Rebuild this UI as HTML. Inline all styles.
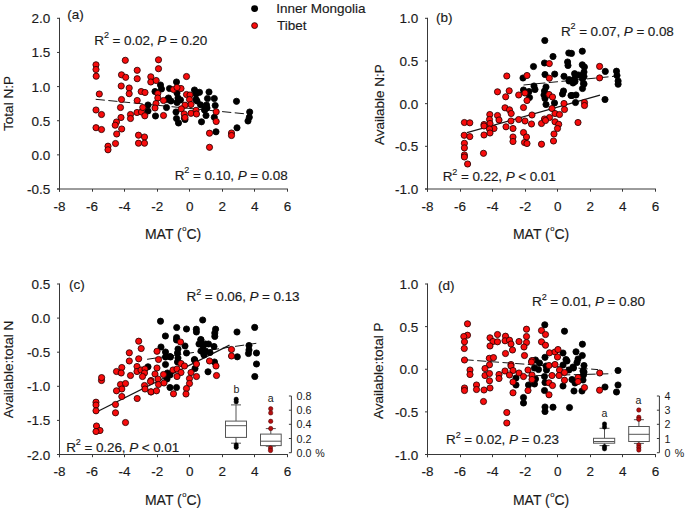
<!DOCTYPE html>
<html><head><meta charset="utf-8"><style>
html,body{margin:0;padding:0;background:#fff;overflow:hidden;width:685px;height:510px;}
svg{display:block;}
.t{font-family:"Liberation Sans", sans-serif;font-size:13.5px;fill:#1a1a1a;stroke:#1a1a1a;stroke-width:0.15px;}
.s{font-family:"Liberation Sans", sans-serif;font-size:10.7px;fill:#1a1a1a;}
.sup{font-size:9px;}
.l{font-family:"Liberation Sans", sans-serif;font-size:10.6px;fill:#1a1a1a;}
</style></head><body>
<svg width="685" height="510" viewBox="0 0 685 510">
<path d="M59.5 17.8V191.7M57.0 189.0H287.92" stroke="#383838" stroke-width="1" fill="none"/>
<text x="50.2" y="23.30" text-anchor="end" class="t">2.0</text>
<text x="50.2" y="57.44" text-anchor="end" class="t">1.5</text>
<text x="50.2" y="91.58" text-anchor="end" class="t">1.0</text>
<text x="50.2" y="125.72" text-anchor="end" class="t">0.5</text>
<text x="50.2" y="159.86" text-anchor="end" class="t">0.0</text>
<text x="50.2" y="194.00" text-anchor="end" class="t">-0.5</text>
<text x="59.50" y="210.60" text-anchor="middle" class="t">-8</text>
<text x="92.06" y="210.60" text-anchor="middle" class="t">-6</text>
<text x="124.62" y="210.60" text-anchor="middle" class="t">-4</text>
<text x="157.18" y="210.60" text-anchor="middle" class="t">-2</text>
<text x="189.74" y="210.60" text-anchor="middle" class="t">0</text>
<text x="222.30" y="210.60" text-anchor="middle" class="t">2</text>
<text x="254.86" y="210.60" text-anchor="middle" class="t">4</text>
<text x="287.42" y="210.60" text-anchor="middle" class="t">6</text>
<path d="M57.0 18.30H59.5M57.0 52.44H59.5M57.0 86.58H59.5M57.0 120.72H59.5M57.0 154.86H59.5M57.0 189.00H59.5M59.50 189.0V191.7M92.50 189.0V191.7M124.50 189.0V191.7M157.50 189.0V191.7M189.50 189.0V191.7M222.50 189.0V191.7M254.50 189.0V191.7M287.50 189.0V191.7" stroke="#383838" stroke-width="1" fill="none"/>
<text x="144.95" y="239.00" class="t" style="font-size:14px">MAT (<tspan style="font-size:7.6px" dx="0.5" dy="-7.9">o</tspan><tspan dy="7.9">C)</tspan></text>
<path d="M427.5 17.8V191.7M425.0 189.0H655.9200000000001" stroke="#383838" stroke-width="1" fill="none"/>
<text x="418.2" y="23.30" text-anchor="end" class="t">1.0</text>
<text x="418.2" y="65.97" text-anchor="end" class="t">0.5</text>
<text x="418.2" y="108.65" text-anchor="end" class="t">0.0</text>
<text x="418.2" y="151.32" text-anchor="end" class="t">-0.5</text>
<text x="418.2" y="194.00" text-anchor="end" class="t">-1.0</text>
<text x="427.50" y="210.60" text-anchor="middle" class="t">-8</text>
<text x="460.06" y="210.60" text-anchor="middle" class="t">-6</text>
<text x="492.62" y="210.60" text-anchor="middle" class="t">-4</text>
<text x="525.18" y="210.60" text-anchor="middle" class="t">-2</text>
<text x="557.74" y="210.60" text-anchor="middle" class="t">0</text>
<text x="590.30" y="210.60" text-anchor="middle" class="t">2</text>
<text x="622.86" y="210.60" text-anchor="middle" class="t">4</text>
<text x="655.42" y="210.60" text-anchor="middle" class="t">6</text>
<path d="M425.0 18.30H427.5M425.0 60.97H427.5M425.0 103.65H427.5M425.0 146.32H427.5M425.0 189.00H427.5M427.50 189.0V191.7M460.50 189.0V191.7M492.50 189.0V191.7M525.50 189.0V191.7M557.50 189.0V191.7M590.50 189.0V191.7M622.50 189.0V191.7M655.50 189.0V191.7" stroke="#383838" stroke-width="1" fill="none"/>
<text x="512.95" y="239.00" class="t" style="font-size:14px">MAT (<tspan style="font-size:7.6px" dx="0.5" dy="-7.9">o</tspan><tspan dy="7.9">C)</tspan></text>
<path d="M59.5 283.5V457.2M57.0 454.5H287.92" stroke="#383838" stroke-width="1" fill="none"/>
<text x="50.2" y="289.00" text-anchor="end" class="t">0.5</text>
<text x="50.2" y="323.10" text-anchor="end" class="t">0.0</text>
<text x="50.2" y="357.20" text-anchor="end" class="t">-0.5</text>
<text x="50.2" y="391.30" text-anchor="end" class="t">-1.0</text>
<text x="50.2" y="425.40" text-anchor="end" class="t">-1.5</text>
<text x="50.2" y="459.50" text-anchor="end" class="t">-2.0</text>
<text x="59.50" y="476.10" text-anchor="middle" class="t">-8</text>
<text x="92.06" y="476.10" text-anchor="middle" class="t">-6</text>
<text x="124.62" y="476.10" text-anchor="middle" class="t">-4</text>
<text x="157.18" y="476.10" text-anchor="middle" class="t">-2</text>
<text x="189.74" y="476.10" text-anchor="middle" class="t">0</text>
<text x="222.30" y="476.10" text-anchor="middle" class="t">2</text>
<text x="254.86" y="476.10" text-anchor="middle" class="t">4</text>
<text x="287.42" y="476.10" text-anchor="middle" class="t">6</text>
<path d="M57.0 284.00H59.5M57.0 318.10H59.5M57.0 352.20H59.5M57.0 386.30H59.5M57.0 420.40H59.5M57.0 454.50H59.5M59.50 454.5V457.2M92.50 454.5V457.2M124.50 454.5V457.2M157.50 454.5V457.2M189.50 454.5V457.2M222.50 454.5V457.2M254.50 454.5V457.2M287.50 454.5V457.2" stroke="#383838" stroke-width="1" fill="none"/>
<text x="144.95" y="504.50" class="t" style="font-size:14px">MAT (<tspan style="font-size:7.6px" dx="0.5" dy="-7.9">o</tspan><tspan dy="7.9">C)</tspan></text>
<path d="M427.5 283.5V457.2M425.0 454.5H655.9200000000001" stroke="#383838" stroke-width="1" fill="none"/>
<text x="418.2" y="289.00" text-anchor="end" class="t">1.0</text>
<text x="418.2" y="331.62" text-anchor="end" class="t">0.5</text>
<text x="418.2" y="374.25" text-anchor="end" class="t">0.0</text>
<text x="418.2" y="416.88" text-anchor="end" class="t">-0.5</text>
<text x="418.2" y="459.50" text-anchor="end" class="t">-1.0</text>
<text x="427.50" y="476.10" text-anchor="middle" class="t">-8</text>
<text x="460.06" y="476.10" text-anchor="middle" class="t">-6</text>
<text x="492.62" y="476.10" text-anchor="middle" class="t">-4</text>
<text x="525.18" y="476.10" text-anchor="middle" class="t">-2</text>
<text x="557.74" y="476.10" text-anchor="middle" class="t">0</text>
<text x="590.30" y="476.10" text-anchor="middle" class="t">2</text>
<text x="622.86" y="476.10" text-anchor="middle" class="t">4</text>
<text x="655.42" y="476.10" text-anchor="middle" class="t">6</text>
<path d="M425.0 284.00H427.5M425.0 326.62H427.5M425.0 369.25H427.5M425.0 411.88H427.5M425.0 454.50H427.5M427.50 454.5V457.2M460.50 454.5V457.2M492.50 454.5V457.2M525.50 454.5V457.2M557.50 454.5V457.2M590.50 454.5V457.2M622.50 454.5V457.2M655.50 454.5V457.2" stroke="#383838" stroke-width="1" fill="none"/>
<text x="512.95" y="504.50" class="t" style="font-size:14px">MAT (<tspan style="font-size:7.6px" dx="0.5" dy="-7.9">o</tspan><tspan dy="7.9">C)</tspan></text>
<text x="67.26" y="18.9" class="t">(a)</text>
<text x="435.96" y="21.8" class="t">(b)</text>
<text x="69.06" y="289.2" class="t">(c)</text>
<text x="437.96" y="289.5" class="t">(d)</text>
<text transform="translate(13.3,103.5) rotate(-90)" text-anchor="middle" class="t">Total N:P</text>
<text transform="translate(383.7,104.7) rotate(-90)" text-anchor="middle" class="t">Available N:P</text>
<text transform="translate(12.6,369.5) rotate(-90)" text-anchor="middle" class="t">Available:total N</text>
<text transform="translate(382.6,370.8) rotate(-90)" text-anchor="middle" class="t">Available:total P</text>
<text x="94.29" y="44.5" class="t" letter-spacing="-0.09">R<tspan class="sup" dy="-6.2">2</tspan><tspan dy="6.2"> = 0.02, </tspan><tspan font-style="italic">P</tspan> = 0.20</text>
<text x="174.69" y="179.6" class="t" letter-spacing="-0.09">R<tspan class="sup" dy="-6.2">2</tspan><tspan dy="6.2"> = 0.10, </tspan><tspan font-style="italic">P</tspan> = 0.08</text>
<text x="560.89" y="35.5" class="t" letter-spacing="-0.09">R<tspan class="sup" dy="-6.2">2</tspan><tspan dy="6.2"> = 0.07, </tspan><tspan font-style="italic">P</tspan> = 0.08</text>
<text x="442.69" y="180.9" class="t" letter-spacing="-0.09">R<tspan class="sup" dy="-6.2">2</tspan><tspan dy="6.2"> = 0.22, </tspan><tspan font-style="italic">P</tspan> &lt; 0.01</text>
<text x="186.59" y="300.9" class="t" letter-spacing="-0.09">R<tspan class="sup" dy="-6.2">2</tspan><tspan dy="6.2"> = 0.06, </tspan><tspan font-style="italic">P</tspan> = 0.13</text>
<text x="66.19" y="451.6" class="t" letter-spacing="-0.09">R<tspan class="sup" dy="-6.2">2</tspan><tspan dy="6.2"> = 0.26, </tspan><tspan font-style="italic">P</tspan> &lt; 0.01</text>
<text x="531.99" y="305.7" class="t" letter-spacing="-0.09">R<tspan class="sup" dy="-6.2">2</tspan><tspan dy="6.2"> = 0.01, </tspan><tspan font-style="italic">P</tspan> = 0.80</text>
<text x="445.99" y="444.3" class="t" letter-spacing="-0.09">R<tspan class="sup" dy="-6.2">2</tspan><tspan dy="6.2"> = 0.02, </tspan><tspan font-style="italic">P</tspan> = 0.23</text>
<circle cx="254.6" cy="8.6" r="3.45" fill="#000"/>
<circle cx="254.6" cy="25.6" r="2.95" fill="#f80c0c" stroke="#300" stroke-width="0.9"/>
<text x="276.16" y="12.7" class="t">Inner Mongolia</text>
<text x="277.10" y="30" class="t">Tibet</text>
<line x1="95.7" y1="99.3" x2="250" y2="114.3" stroke="#151515" stroke-dasharray="9.2,3.5" stroke-width="1.0"/>
<line x1="467" y1="132.6" x2="600" y2="95.2" stroke="#151515" stroke-width="1.2"/>
<line x1="523.5" y1="85" x2="614.2" y2="76.3" stroke="#151515" stroke-dasharray="9.2,3.5" stroke-width="1.0"/>
<line x1="96" y1="412.3" x2="229.5" y2="345.1" stroke="#151515" stroke-width="1.2"/>
<line x1="147.1" y1="359.3" x2="256.3" y2="343.3" stroke="#151515" stroke-dasharray="9.2,3.5" stroke-width="1.0"/>
<line x1="464.5" y1="359.7" x2="598" y2="369.6" stroke="#151515" stroke-dasharray="9.2,3.5" stroke-width="1.0"/>
<line x1="523" y1="376" x2="612" y2="373.7" stroke="#151515" stroke-dasharray="9.2,3.5" stroke-width="1.0"/>
<circle cx="160.5" cy="85" r="3.1" fill="#000" stroke="#000" stroke-width="0.85"/>
<circle cx="161.5" cy="89" r="3.1" fill="#000" stroke="#000" stroke-width="0.85"/>
<circle cx="176.5" cy="82" r="3.1" fill="#000" stroke="#000" stroke-width="0.85"/>
<circle cx="169.5" cy="88.5" r="3.1" fill="#000" stroke="#000" stroke-width="0.85"/>
<circle cx="155" cy="91.5" r="3.1" fill="#000" stroke="#000" stroke-width="0.85"/>
<circle cx="194.5" cy="90" r="3.1" fill="#000" stroke="#000" stroke-width="0.85"/>
<circle cx="199.5" cy="92.3" r="3.1" fill="#000" stroke="#000" stroke-width="0.85"/>
<circle cx="209" cy="92" r="3.1" fill="#000" stroke="#000" stroke-width="0.85"/>
<circle cx="177" cy="93" r="3.1" fill="#000" stroke="#000" stroke-width="0.85"/>
<circle cx="168.5" cy="98" r="3.1" fill="#000" stroke="#000" stroke-width="0.85"/>
<circle cx="178" cy="98" r="3.1" fill="#000" stroke="#000" stroke-width="0.85"/>
<circle cx="196" cy="99.5" r="3.1" fill="#000" stroke="#000" stroke-width="0.85"/>
<circle cx="148" cy="105" r="3.1" fill="#000" stroke="#000" stroke-width="0.85"/>
<circle cx="148" cy="111" r="3.1" fill="#000" stroke="#000" stroke-width="0.85"/>
<circle cx="155.5" cy="116" r="3.1" fill="#000" stroke="#000" stroke-width="0.85"/>
<circle cx="166.5" cy="107.5" r="3.1" fill="#000" stroke="#000" stroke-width="0.85"/>
<circle cx="167.5" cy="99.5" r="3.1" fill="#000" stroke="#000" stroke-width="0.85"/>
<circle cx="171" cy="101" r="3.1" fill="#000" stroke="#000" stroke-width="0.85"/>
<circle cx="177" cy="102.5" r="3.1" fill="#000" stroke="#000" stroke-width="0.85"/>
<circle cx="176" cy="112" r="3.1" fill="#000" stroke="#000" stroke-width="0.85"/>
<circle cx="176.5" cy="118.5" r="3.1" fill="#000" stroke="#000" stroke-width="0.85"/>
<circle cx="178.5" cy="123" r="3.1" fill="#000" stroke="#000" stroke-width="0.85"/>
<circle cx="185" cy="119.5" r="3.1" fill="#000" stroke="#000" stroke-width="0.85"/>
<circle cx="197" cy="101" r="3.1" fill="#000" stroke="#000" stroke-width="0.85"/>
<circle cx="200.5" cy="104.8" r="3.1" fill="#000" stroke="#000" stroke-width="0.85"/>
<circle cx="205" cy="109" r="3.1" fill="#000" stroke="#000" stroke-width="0.85"/>
<circle cx="206" cy="115.5" r="3.1" fill="#000" stroke="#000" stroke-width="0.85"/>
<circle cx="201.5" cy="121.8" r="3.1" fill="#000" stroke="#000" stroke-width="0.85"/>
<circle cx="207.5" cy="98.5" r="3.1" fill="#000" stroke="#000" stroke-width="0.85"/>
<circle cx="214.3" cy="98.5" r="3.1" fill="#000" stroke="#000" stroke-width="0.85"/>
<circle cx="206.5" cy="105" r="3.1" fill="#000" stroke="#000" stroke-width="0.85"/>
<circle cx="215.2" cy="105.5" r="3.1" fill="#000" stroke="#000" stroke-width="0.85"/>
<circle cx="204.5" cy="110" r="3.1" fill="#000" stroke="#000" stroke-width="0.85"/>
<circle cx="207" cy="108" r="3.1" fill="#000" stroke="#000" stroke-width="0.85"/>
<circle cx="214.3" cy="117.3" r="3.1" fill="#000" stroke="#000" stroke-width="0.85"/>
<circle cx="236.5" cy="101.3" r="3.1" fill="#000" stroke="#000" stroke-width="0.85"/>
<circle cx="184.5" cy="118" r="3.1" fill="#000" stroke="#000" stroke-width="0.85"/>
<circle cx="180.5" cy="100" r="3.1" fill="#000" stroke="#000" stroke-width="0.85"/>
<circle cx="249.7" cy="112" r="3.1" fill="#000" stroke="#000" stroke-width="0.85"/>
<circle cx="249.3" cy="117.3" r="3.1" fill="#000" stroke="#000" stroke-width="0.85"/>
<circle cx="248" cy="121" r="3.1" fill="#000" stroke="#000" stroke-width="0.85"/>
<circle cx="237" cy="127.8" r="3.1" fill="#000" stroke="#000" stroke-width="0.85"/>
<circle cx="216" cy="131.8" r="3.1" fill="#000" stroke="#000" stroke-width="0.85"/>
<circle cx="196" cy="94" r="3.1" fill="#000" stroke="#000" stroke-width="0.85"/>
<circle cx="544.8" cy="40.5" r="3.1" fill="#000" stroke="#000" stroke-width="0.85"/>
<circle cx="553" cy="56.5" r="3.1" fill="#000" stroke="#000" stroke-width="0.85"/>
<circle cx="544.5" cy="63" r="3.1" fill="#000" stroke="#000" stroke-width="0.85"/>
<circle cx="533.5" cy="66.5" r="3.1" fill="#000" stroke="#000" stroke-width="0.85"/>
<circle cx="568.8" cy="53" r="3.1" fill="#000" stroke="#000" stroke-width="0.85"/>
<circle cx="571.5" cy="53.4" r="3.1" fill="#000" stroke="#000" stroke-width="0.85"/>
<circle cx="582.3" cy="51.2" r="3.1" fill="#000" stroke="#000" stroke-width="0.85"/>
<circle cx="567.6" cy="62" r="3.1" fill="#000" stroke="#000" stroke-width="0.85"/>
<circle cx="568" cy="65.5" r="3.1" fill="#000" stroke="#000" stroke-width="0.85"/>
<circle cx="582.3" cy="64.8" r="3.1" fill="#000" stroke="#000" stroke-width="0.85"/>
<circle cx="584.4" cy="67" r="3.1" fill="#000" stroke="#000" stroke-width="0.85"/>
<circle cx="584" cy="72" r="3.1" fill="#000" stroke="#000" stroke-width="0.85"/>
<circle cx="545" cy="74.5" r="3.1" fill="#000" stroke="#000" stroke-width="0.85"/>
<circle cx="554.7" cy="74.1" r="3.1" fill="#000" stroke="#000" stroke-width="0.85"/>
<circle cx="564" cy="76.3" r="3.1" fill="#000" stroke="#000" stroke-width="0.85"/>
<circle cx="574.6" cy="73.7" r="3.1" fill="#000" stroke="#000" stroke-width="0.85"/>
<circle cx="578.6" cy="75" r="3.1" fill="#000" stroke="#000" stroke-width="0.85"/>
<circle cx="584" cy="76.5" r="3.1" fill="#000" stroke="#000" stroke-width="0.85"/>
<circle cx="523" cy="78" r="3.1" fill="#000" stroke="#000" stroke-width="0.85"/>
<circle cx="569.2" cy="79.6" r="3.1" fill="#000" stroke="#000" stroke-width="0.85"/>
<circle cx="574.6" cy="78.8" r="3.1" fill="#000" stroke="#000" stroke-width="0.85"/>
<circle cx="582.5" cy="78.8" r="3.1" fill="#000" stroke="#000" stroke-width="0.85"/>
<circle cx="534" cy="86" r="3.1" fill="#000" stroke="#000" stroke-width="0.85"/>
<circle cx="535" cy="89.5" r="3.1" fill="#000" stroke="#000" stroke-width="0.85"/>
<circle cx="523.5" cy="90" r="3.1" fill="#000" stroke="#000" stroke-width="0.85"/>
<circle cx="529" cy="91.5" r="3.1" fill="#000" stroke="#000" stroke-width="0.85"/>
<circle cx="529.5" cy="97.5" r="3.1" fill="#000" stroke="#000" stroke-width="0.85"/>
<circle cx="546" cy="87" r="3.1" fill="#000" stroke="#000" stroke-width="0.85"/>
<circle cx="544.5" cy="91" r="3.1" fill="#000" stroke="#000" stroke-width="0.85"/>
<circle cx="544" cy="95" r="3.1" fill="#000" stroke="#000" stroke-width="0.85"/>
<circle cx="545" cy="98.5" r="3.1" fill="#000" stroke="#000" stroke-width="0.85"/>
<circle cx="546" cy="104.5" r="3.1" fill="#000" stroke="#000" stroke-width="0.85"/>
<circle cx="554.5" cy="103" r="3.1" fill="#000" stroke="#000" stroke-width="0.85"/>
<circle cx="563.5" cy="91" r="3.1" fill="#000" stroke="#000" stroke-width="0.85"/>
<circle cx="562.5" cy="94" r="3.1" fill="#000" stroke="#000" stroke-width="0.85"/>
<circle cx="571" cy="95.5" r="3.1" fill="#000" stroke="#000" stroke-width="0.85"/>
<circle cx="576" cy="95" r="3.1" fill="#000" stroke="#000" stroke-width="0.85"/>
<circle cx="575.5" cy="102.5" r="3.1" fill="#000" stroke="#000" stroke-width="0.85"/>
<circle cx="569" cy="81" r="3.1" fill="#000" stroke="#000" stroke-width="0.85"/>
<circle cx="575" cy="81.5" r="3.1" fill="#000" stroke="#000" stroke-width="0.85"/>
<circle cx="573" cy="83" r="3.1" fill="#000" stroke="#000" stroke-width="0.85"/>
<circle cx="584" cy="84" r="3.1" fill="#000" stroke="#000" stroke-width="0.85"/>
<circle cx="582.5" cy="88.5" r="3.1" fill="#000" stroke="#000" stroke-width="0.85"/>
<circle cx="572" cy="95.5" r="3.1" fill="#000" stroke="#000" stroke-width="0.85"/>
<circle cx="605.3" cy="71.4" r="3.1" fill="#000" stroke="#000" stroke-width="0.85"/>
<circle cx="616.5" cy="71.2" r="3.1" fill="#000" stroke="#000" stroke-width="0.85"/>
<circle cx="617" cy="75.5" r="3.1" fill="#000" stroke="#000" stroke-width="0.85"/>
<circle cx="618.1" cy="81" r="3.1" fill="#000" stroke="#000" stroke-width="0.85"/>
<circle cx="618.1" cy="84.2" r="3.1" fill="#000" stroke="#000" stroke-width="0.85"/>
<circle cx="605" cy="99.5" r="3.1" fill="#000" stroke="#000" stroke-width="0.85"/>
<circle cx="583.5" cy="83.5" r="3.1" fill="#000" stroke="#000" stroke-width="0.85"/>
<circle cx="160.5" cy="321.2" r="3.1" fill="#000" stroke="#000" stroke-width="0.85"/>
<circle cx="202.7" cy="320" r="3.1" fill="#000" stroke="#000" stroke-width="0.85"/>
<circle cx="176.7" cy="327.5" r="3.1" fill="#000" stroke="#000" stroke-width="0.85"/>
<circle cx="186.5" cy="329" r="3.1" fill="#000" stroke="#000" stroke-width="0.85"/>
<circle cx="196.3" cy="329.2" r="3.1" fill="#000" stroke="#000" stroke-width="0.85"/>
<circle cx="196.4" cy="332" r="3.1" fill="#000" stroke="#000" stroke-width="0.85"/>
<circle cx="215.6" cy="329.2" r="3.1" fill="#000" stroke="#000" stroke-width="0.85"/>
<circle cx="214.8" cy="333" r="3.1" fill="#000" stroke="#000" stroke-width="0.85"/>
<circle cx="214.8" cy="336.4" r="3.1" fill="#000" stroke="#000" stroke-width="0.85"/>
<circle cx="237" cy="332" r="3.1" fill="#000" stroke="#000" stroke-width="0.85"/>
<circle cx="254.7" cy="327.4" r="3.1" fill="#000" stroke="#000" stroke-width="0.85"/>
<circle cx="165.4" cy="336" r="3.1" fill="#000" stroke="#000" stroke-width="0.85"/>
<circle cx="176.6" cy="337.5" r="3.1" fill="#000" stroke="#000" stroke-width="0.85"/>
<circle cx="200.8" cy="339.5" r="3.1" fill="#000" stroke="#000" stroke-width="0.85"/>
<circle cx="176.5" cy="340" r="3.1" fill="#000" stroke="#000" stroke-width="0.85"/>
<circle cx="185" cy="346" r="3.1" fill="#000" stroke="#000" stroke-width="0.85"/>
<circle cx="161" cy="347" r="3.1" fill="#000" stroke="#000" stroke-width="0.85"/>
<circle cx="165.5" cy="352" r="3.1" fill="#000" stroke="#000" stroke-width="0.85"/>
<circle cx="178" cy="349" r="3.1" fill="#000" stroke="#000" stroke-width="0.85"/>
<circle cx="177.5" cy="353" r="3.1" fill="#000" stroke="#000" stroke-width="0.85"/>
<circle cx="186.5" cy="353" r="3.1" fill="#000" stroke="#000" stroke-width="0.85"/>
<circle cx="170" cy="356.5" r="3.1" fill="#000" stroke="#000" stroke-width="0.85"/>
<circle cx="165.5" cy="357" r="3.1" fill="#000" stroke="#000" stroke-width="0.85"/>
<circle cx="201" cy="340" r="3.1" fill="#000" stroke="#000" stroke-width="0.85"/>
<circle cx="199" cy="344" r="3.1" fill="#000" stroke="#000" stroke-width="0.85"/>
<circle cx="205.5" cy="344" r="3.1" fill="#000" stroke="#000" stroke-width="0.85"/>
<circle cx="201" cy="351" r="3.1" fill="#000" stroke="#000" stroke-width="0.85"/>
<circle cx="204" cy="354" r="3.1" fill="#000" stroke="#000" stroke-width="0.85"/>
<circle cx="194.5" cy="359.5" r="3.1" fill="#000" stroke="#000" stroke-width="0.85"/>
<circle cx="178" cy="358" r="3.1" fill="#000" stroke="#000" stroke-width="0.85"/>
<circle cx="208.5" cy="344" r="3.1" fill="#000" stroke="#000" stroke-width="0.85"/>
<circle cx="214" cy="346.5" r="3.1" fill="#000" stroke="#000" stroke-width="0.85"/>
<circle cx="203" cy="346" r="3.1" fill="#000" stroke="#000" stroke-width="0.85"/>
<circle cx="205.5" cy="351" r="3.1" fill="#000" stroke="#000" stroke-width="0.85"/>
<circle cx="210" cy="352.5" r="3.1" fill="#000" stroke="#000" stroke-width="0.85"/>
<circle cx="204" cy="355" r="3.1" fill="#000" stroke="#000" stroke-width="0.85"/>
<circle cx="249" cy="345.5" r="3.1" fill="#000" stroke="#000" stroke-width="0.85"/>
<circle cx="249" cy="350" r="3.1" fill="#000" stroke="#000" stroke-width="0.85"/>
<circle cx="248.5" cy="353.5" r="3.1" fill="#000" stroke="#000" stroke-width="0.85"/>
<circle cx="256.5" cy="353" r="3.1" fill="#000" stroke="#000" stroke-width="0.85"/>
<circle cx="237.3" cy="356.8" r="3.1" fill="#000" stroke="#000" stroke-width="0.85"/>
<circle cx="148" cy="366.8" r="3.1" fill="#000" stroke="#000" stroke-width="0.85"/>
<circle cx="165.5" cy="364.5" r="3.1" fill="#000" stroke="#000" stroke-width="0.85"/>
<circle cx="170.5" cy="357" r="3.1" fill="#000" stroke="#000" stroke-width="0.85"/>
<circle cx="177.5" cy="362" r="3.1" fill="#000" stroke="#000" stroke-width="0.85"/>
<circle cx="167.5" cy="373" r="3.1" fill="#000" stroke="#000" stroke-width="0.85"/>
<circle cx="170" cy="375" r="3.1" fill="#000" stroke="#000" stroke-width="0.85"/>
<circle cx="167" cy="379" r="3.1" fill="#000" stroke="#000" stroke-width="0.85"/>
<circle cx="170" cy="387.5" r="3.1" fill="#000" stroke="#000" stroke-width="0.85"/>
<circle cx="176.5" cy="387.5" r="3.1" fill="#000" stroke="#000" stroke-width="0.85"/>
<circle cx="194.5" cy="360" r="3.1" fill="#000" stroke="#000" stroke-width="0.85"/>
<circle cx="195" cy="368.5" r="3.1" fill="#000" stroke="#000" stroke-width="0.85"/>
<circle cx="208" cy="371.8" r="3.1" fill="#000" stroke="#000" stroke-width="0.85"/>
<circle cx="256.5" cy="364" r="3.1" fill="#000" stroke="#000" stroke-width="0.85"/>
<circle cx="254.8" cy="376.5" r="3.1" fill="#000" stroke="#000" stroke-width="0.85"/>
<circle cx="214.5" cy="362" r="3.1" fill="#000" stroke="#000" stroke-width="0.85"/>
<circle cx="544.8" cy="324.8" r="3.1" fill="#000" stroke="#000" stroke-width="0.85"/>
<circle cx="564.5" cy="331.2" r="3.1" fill="#000" stroke="#000" stroke-width="0.85"/>
<circle cx="582.4" cy="344.2" r="3.1" fill="#000" stroke="#000" stroke-width="0.85"/>
<circle cx="576" cy="351.8" r="3.1" fill="#000" stroke="#000" stroke-width="0.85"/>
<circle cx="582.3" cy="355.5" r="3.1" fill="#000" stroke="#000" stroke-width="0.85"/>
<circle cx="563" cy="353" r="3.1" fill="#000" stroke="#000" stroke-width="0.85"/>
<circle cx="545" cy="357.3" r="3.1" fill="#000" stroke="#000" stroke-width="0.85"/>
<circle cx="535.5" cy="360" r="3.1" fill="#000" stroke="#000" stroke-width="0.85"/>
<circle cx="566" cy="359.5" r="3.1" fill="#000" stroke="#000" stroke-width="0.85"/>
<circle cx="578" cy="359" r="3.1" fill="#000" stroke="#000" stroke-width="0.85"/>
<circle cx="577" cy="362.5" r="3.1" fill="#000" stroke="#000" stroke-width="0.85"/>
<circle cx="584" cy="365.5" r="3.1" fill="#000" stroke="#000" stroke-width="0.85"/>
<circle cx="573" cy="367" r="3.1" fill="#000" stroke="#000" stroke-width="0.85"/>
<circle cx="539.5" cy="363" r="3.1" fill="#000" stroke="#000" stroke-width="0.85"/>
<circle cx="534.5" cy="368" r="3.1" fill="#000" stroke="#000" stroke-width="0.85"/>
<circle cx="538.5" cy="369.5" r="3.1" fill="#000" stroke="#000" stroke-width="0.85"/>
<circle cx="546" cy="366" r="3.1" fill="#000" stroke="#000" stroke-width="0.85"/>
<circle cx="546.5" cy="370" r="3.1" fill="#000" stroke="#000" stroke-width="0.85"/>
<circle cx="544.5" cy="376.5" r="3.1" fill="#000" stroke="#000" stroke-width="0.85"/>
<circle cx="545" cy="382.5" r="3.1" fill="#000" stroke="#000" stroke-width="0.85"/>
<circle cx="535.5" cy="379" r="3.1" fill="#000" stroke="#000" stroke-width="0.85"/>
<circle cx="534.5" cy="384" r="3.1" fill="#000" stroke="#000" stroke-width="0.85"/>
<circle cx="528.5" cy="385" r="3.1" fill="#000" stroke="#000" stroke-width="0.85"/>
<circle cx="563" cy="365" r="3.1" fill="#000" stroke="#000" stroke-width="0.85"/>
<circle cx="567" cy="361" r="3.1" fill="#000" stroke="#000" stroke-width="0.85"/>
<circle cx="569" cy="370" r="3.1" fill="#000" stroke="#000" stroke-width="0.85"/>
<circle cx="573.5" cy="368" r="3.1" fill="#000" stroke="#000" stroke-width="0.85"/>
<circle cx="572" cy="379.5" r="3.1" fill="#000" stroke="#000" stroke-width="0.85"/>
<circle cx="563" cy="386" r="3.1" fill="#000" stroke="#000" stroke-width="0.85"/>
<circle cx="574" cy="391" r="3.1" fill="#000" stroke="#000" stroke-width="0.85"/>
<circle cx="544.5" cy="390.5" r="3.1" fill="#000" stroke="#000" stroke-width="0.85"/>
<circle cx="583" cy="371" r="3.1" fill="#000" stroke="#000" stroke-width="0.85"/>
<circle cx="582" cy="391" r="3.1" fill="#000" stroke="#000" stroke-width="0.85"/>
<circle cx="523.5" cy="397.5" r="3.1" fill="#000" stroke="#000" stroke-width="0.85"/>
<circle cx="523.5" cy="403" r="3.1" fill="#000" stroke="#000" stroke-width="0.85"/>
<circle cx="545" cy="407" r="3.1" fill="#000" stroke="#000" stroke-width="0.85"/>
<circle cx="545" cy="411.5" r="3.1" fill="#000" stroke="#000" stroke-width="0.85"/>
<circle cx="553" cy="407.2" r="3.1" fill="#000" stroke="#000" stroke-width="0.85"/>
<circle cx="569.5" cy="407.5" r="3.1" fill="#000" stroke="#000" stroke-width="0.85"/>
<circle cx="516" cy="378" r="3.1" fill="#000" stroke="#000" stroke-width="0.85"/>
<circle cx="516" cy="385" r="3.1" fill="#000" stroke="#000" stroke-width="0.85"/>
<circle cx="618" cy="370.5" r="3.1" fill="#000" stroke="#000" stroke-width="0.85"/>
<circle cx="618" cy="385" r="3.1" fill="#000" stroke="#000" stroke-width="0.85"/>
<circle cx="616.5" cy="392" r="3.1" fill="#000" stroke="#000" stroke-width="0.85"/>
<circle cx="605" cy="387" r="3.1" fill="#000" stroke="#000" stroke-width="0.85"/>
<circle cx="575" cy="383" r="3.1" fill="#000" stroke="#000" stroke-width="0.85"/>
<circle cx="583" cy="380" r="3.1" fill="#000" stroke="#000" stroke-width="0.85"/>
<circle cx="584" cy="372" r="3.1" fill="#000" stroke="#000" stroke-width="0.85"/>
<circle cx="583.5" cy="375" r="3.1" fill="#000" stroke="#000" stroke-width="0.85"/>
<circle cx="96.0" cy="64.8" r="3.1" fill="#f80c0c" stroke="#2a0000" stroke-width="0.85"/>
<circle cx="96.0" cy="69.5" r="3.1" fill="#f80c0c" stroke="#2a0000" stroke-width="0.85"/>
<circle cx="96.2" cy="76.2" r="3.1" fill="#f80c0c" stroke="#2a0000" stroke-width="0.85"/>
<circle cx="125.3" cy="60.3" r="3.1" fill="#f80c0c" stroke="#2a0000" stroke-width="0.85"/>
<circle cx="137.2" cy="70.3" r="3.1" fill="#f80c0c" stroke="#2a0000" stroke-width="0.85"/>
<circle cx="121.5" cy="74.8" r="3.1" fill="#f80c0c" stroke="#2a0000" stroke-width="0.85"/>
<circle cx="125.7" cy="77.3" r="3.1" fill="#f80c0c" stroke="#2a0000" stroke-width="0.85"/>
<circle cx="137.2" cy="78.7" r="3.1" fill="#f80c0c" stroke="#2a0000" stroke-width="0.85"/>
<circle cx="121.2" cy="86" r="3.1" fill="#f80c0c" stroke="#2a0000" stroke-width="0.85"/>
<circle cx="129.2" cy="88" r="3.1" fill="#f80c0c" stroke="#2a0000" stroke-width="0.85"/>
<circle cx="129.2" cy="93.7" r="3.1" fill="#f80c0c" stroke="#2a0000" stroke-width="0.85"/>
<circle cx="99.3" cy="94" r="3.1" fill="#f80c0c" stroke="#2a0000" stroke-width="0.85"/>
<circle cx="141.2" cy="91.5" r="3.1" fill="#f80c0c" stroke="#2a0000" stroke-width="0.85"/>
<circle cx="145" cy="92.5" r="3.1" fill="#f80c0c" stroke="#2a0000" stroke-width="0.85"/>
<circle cx="121.5" cy="99.5" r="3.1" fill="#f80c0c" stroke="#2a0000" stroke-width="0.85"/>
<circle cx="137.2" cy="100.5" r="3.1" fill="#f80c0c" stroke="#2a0000" stroke-width="0.85"/>
<circle cx="120.5" cy="107.5" r="3.1" fill="#f80c0c" stroke="#2a0000" stroke-width="0.85"/>
<circle cx="96" cy="110" r="3.1" fill="#f80c0c" stroke="#2a0000" stroke-width="0.85"/>
<circle cx="101.5" cy="114.5" r="3.1" fill="#f80c0c" stroke="#2a0000" stroke-width="0.85"/>
<circle cx="121" cy="117.5" r="3.1" fill="#f80c0c" stroke="#2a0000" stroke-width="0.85"/>
<circle cx="130.5" cy="114.5" r="3.1" fill="#f80c0c" stroke="#2a0000" stroke-width="0.85"/>
<circle cx="130.5" cy="118.5" r="3.1" fill="#f80c0c" stroke="#2a0000" stroke-width="0.85"/>
<circle cx="137" cy="112.5" r="3.1" fill="#f80c0c" stroke="#2a0000" stroke-width="0.85"/>
<circle cx="141.5" cy="112" r="3.1" fill="#f80c0c" stroke="#2a0000" stroke-width="0.85"/>
<circle cx="142.8" cy="107.5" r="3.1" fill="#f80c0c" stroke="#2a0000" stroke-width="0.85"/>
<circle cx="144.8" cy="115.8" r="3.1" fill="#f80c0c" stroke="#2a0000" stroke-width="0.85"/>
<circle cx="116.5" cy="122" r="3.1" fill="#f80c0c" stroke="#2a0000" stroke-width="0.85"/>
<circle cx="115.2" cy="125.2" r="3.1" fill="#f80c0c" stroke="#2a0000" stroke-width="0.85"/>
<circle cx="121.7" cy="129" r="3.1" fill="#f80c0c" stroke="#2a0000" stroke-width="0.85"/>
<circle cx="96" cy="127.7" r="3.1" fill="#f80c0c" stroke="#2a0000" stroke-width="0.85"/>
<circle cx="101.5" cy="129.5" r="3.1" fill="#f80c0c" stroke="#2a0000" stroke-width="0.85"/>
<circle cx="116.7" cy="134" r="3.1" fill="#f80c0c" stroke="#2a0000" stroke-width="0.85"/>
<circle cx="138.5" cy="135.2" r="3.1" fill="#f80c0c" stroke="#2a0000" stroke-width="0.85"/>
<circle cx="144.5" cy="137" r="3.1" fill="#f80c0c" stroke="#2a0000" stroke-width="0.85"/>
<circle cx="138.5" cy="143.2" r="3.1" fill="#f80c0c" stroke="#2a0000" stroke-width="0.85"/>
<circle cx="144.5" cy="143.2" r="3.1" fill="#f80c0c" stroke="#2a0000" stroke-width="0.85"/>
<circle cx="115.5" cy="143.5" r="3.1" fill="#f80c0c" stroke="#2a0000" stroke-width="0.85"/>
<circle cx="108" cy="146.2" r="3.1" fill="#f80c0c" stroke="#2a0000" stroke-width="0.85"/>
<circle cx="108" cy="149.8" r="3.1" fill="#f80c0c" stroke="#2a0000" stroke-width="0.85"/>
<circle cx="158.5" cy="59.8" r="3.1" fill="#f80c0c" stroke="#2a0000" stroke-width="0.85"/>
<circle cx="158.5" cy="68.7" r="3.1" fill="#f80c0c" stroke="#2a0000" stroke-width="0.85"/>
<circle cx="186.5" cy="76.5" r="3.1" fill="#f80c0c" stroke="#2a0000" stroke-width="0.85"/>
<circle cx="150.8" cy="76.8" r="3.1" fill="#f80c0c" stroke="#2a0000" stroke-width="0.85"/>
<circle cx="150.8" cy="82" r="3.1" fill="#f80c0c" stroke="#2a0000" stroke-width="0.85"/>
<circle cx="156.2" cy="80.5" r="3.1" fill="#f80c0c" stroke="#2a0000" stroke-width="0.85"/>
<circle cx="173.5" cy="89.5" r="3.1" fill="#f80c0c" stroke="#2a0000" stroke-width="0.85"/>
<circle cx="181" cy="88.5" r="3.1" fill="#f80c0c" stroke="#2a0000" stroke-width="0.85"/>
<circle cx="177" cy="87.5" r="3.1" fill="#f80c0c" stroke="#2a0000" stroke-width="0.85"/>
<circle cx="157.8" cy="93.5" r="3.1" fill="#f80c0c" stroke="#2a0000" stroke-width="0.85"/>
<circle cx="157.8" cy="98" r="3.1" fill="#f80c0c" stroke="#2a0000" stroke-width="0.85"/>
<circle cx="163.5" cy="100.5" r="3.1" fill="#f80c0c" stroke="#2a0000" stroke-width="0.85"/>
<circle cx="156" cy="103.5" r="3.1" fill="#f80c0c" stroke="#2a0000" stroke-width="0.85"/>
<circle cx="155" cy="108" r="3.1" fill="#f80c0c" stroke="#2a0000" stroke-width="0.85"/>
<circle cx="163.5" cy="115.5" r="3.1" fill="#f80c0c" stroke="#2a0000" stroke-width="0.85"/>
<circle cx="186.5" cy="94.5" r="3.1" fill="#f80c0c" stroke="#2a0000" stroke-width="0.85"/>
<circle cx="190" cy="95" r="3.1" fill="#f80c0c" stroke="#2a0000" stroke-width="0.85"/>
<circle cx="189.5" cy="99.5" r="3.1" fill="#f80c0c" stroke="#2a0000" stroke-width="0.85"/>
<circle cx="191" cy="104.5" r="3.1" fill="#f80c0c" stroke="#2a0000" stroke-width="0.85"/>
<circle cx="185" cy="105.2" r="3.1" fill="#f80c0c" stroke="#2a0000" stroke-width="0.85"/>
<circle cx="181.3" cy="108.8" r="3.1" fill="#f80c0c" stroke="#2a0000" stroke-width="0.85"/>
<circle cx="184.2" cy="114" r="3.1" fill="#f80c0c" stroke="#2a0000" stroke-width="0.85"/>
<circle cx="191" cy="113.3" r="3.1" fill="#f80c0c" stroke="#2a0000" stroke-width="0.85"/>
<circle cx="196" cy="110.3" r="3.1" fill="#f80c0c" stroke="#2a0000" stroke-width="0.85"/>
<circle cx="196.5" cy="114" r="3.1" fill="#f80c0c" stroke="#2a0000" stroke-width="0.85"/>
<circle cx="185" cy="117.5" r="3.1" fill="#f80c0c" stroke="#2a0000" stroke-width="0.85"/>
<circle cx="209.5" cy="133.2" r="3.1" fill="#f80c0c" stroke="#2a0000" stroke-width="0.85"/>
<circle cx="209.5" cy="147.3" r="3.1" fill="#f80c0c" stroke="#2a0000" stroke-width="0.85"/>
<circle cx="216.2" cy="111.8" r="3.1" fill="#f80c0c" stroke="#2a0000" stroke-width="0.85"/>
<circle cx="216.2" cy="121.5" r="3.1" fill="#f80c0c" stroke="#2a0000" stroke-width="0.85"/>
<circle cx="231.5" cy="133" r="3.1" fill="#f80c0c" stroke="#2a0000" stroke-width="0.85"/>
<circle cx="231.5" cy="135.5" r="3.1" fill="#f80c0c" stroke="#2a0000" stroke-width="0.85"/>
<circle cx="506.8" cy="76" r="3.1" fill="#f80c0c" stroke="#2a0000" stroke-width="0.85"/>
<circle cx="497.5" cy="91.8" r="3.1" fill="#f80c0c" stroke="#2a0000" stroke-width="0.85"/>
<circle cx="509.2" cy="90.8" r="3.1" fill="#f80c0c" stroke="#2a0000" stroke-width="0.85"/>
<circle cx="505.7" cy="96.8" r="3.1" fill="#f80c0c" stroke="#2a0000" stroke-width="0.85"/>
<circle cx="518.7" cy="95" r="3.1" fill="#f80c0c" stroke="#2a0000" stroke-width="0.85"/>
<circle cx="505" cy="107.8" r="3.1" fill="#f80c0c" stroke="#2a0000" stroke-width="0.85"/>
<circle cx="509.5" cy="109.8" r="3.1" fill="#f80c0c" stroke="#2a0000" stroke-width="0.85"/>
<circle cx="511.2" cy="113.5" r="3.1" fill="#f80c0c" stroke="#2a0000" stroke-width="0.85"/>
<circle cx="489.8" cy="114.5" r="3.1" fill="#f80c0c" stroke="#2a0000" stroke-width="0.85"/>
<circle cx="497.5" cy="115.5" r="3.1" fill="#f80c0c" stroke="#2a0000" stroke-width="0.85"/>
<circle cx="499" cy="120" r="3.1" fill="#f80c0c" stroke="#2a0000" stroke-width="0.85"/>
<circle cx="489.5" cy="119.5" r="3.1" fill="#f80c0c" stroke="#2a0000" stroke-width="0.85"/>
<circle cx="490" cy="123.5" r="3.1" fill="#f80c0c" stroke="#2a0000" stroke-width="0.85"/>
<circle cx="484" cy="124.5" r="3.1" fill="#f80c0c" stroke="#2a0000" stroke-width="0.85"/>
<circle cx="464.4" cy="122.5" r="3.1" fill="#f80c0c" stroke="#2a0000" stroke-width="0.85"/>
<circle cx="469.8" cy="122.8" r="3.1" fill="#f80c0c" stroke="#2a0000" stroke-width="0.85"/>
<circle cx="506" cy="126.8" r="3.1" fill="#f80c0c" stroke="#2a0000" stroke-width="0.85"/>
<circle cx="511" cy="121" r="3.1" fill="#f80c0c" stroke="#2a0000" stroke-width="0.85"/>
<circle cx="518.7" cy="119.5" r="3.1" fill="#f80c0c" stroke="#2a0000" stroke-width="0.85"/>
<circle cx="513" cy="128.5" r="3.1" fill="#f80c0c" stroke="#2a0000" stroke-width="0.85"/>
<circle cx="494" cy="128.5" r="3.1" fill="#f80c0c" stroke="#2a0000" stroke-width="0.85"/>
<circle cx="489.5" cy="129" r="3.1" fill="#f80c0c" stroke="#2a0000" stroke-width="0.85"/>
<circle cx="464.2" cy="135.3" r="3.1" fill="#f80c0c" stroke="#2a0000" stroke-width="0.85"/>
<circle cx="469.8" cy="136.6" r="3.1" fill="#f80c0c" stroke="#2a0000" stroke-width="0.85"/>
<circle cx="464.4" cy="143.3" r="3.1" fill="#f80c0c" stroke="#2a0000" stroke-width="0.85"/>
<circle cx="464.4" cy="147.9" r="3.1" fill="#f80c0c" stroke="#2a0000" stroke-width="0.85"/>
<circle cx="464.4" cy="155" r="3.1" fill="#f80c0c" stroke="#2a0000" stroke-width="0.85"/>
<circle cx="464.4" cy="157" r="3.1" fill="#f80c0c" stroke="#2a0000" stroke-width="0.85"/>
<circle cx="467.6" cy="164" r="3.1" fill="#f80c0c" stroke="#2a0000" stroke-width="0.85"/>
<circle cx="484" cy="135" r="3.1" fill="#f80c0c" stroke="#2a0000" stroke-width="0.85"/>
<circle cx="490" cy="133" r="3.1" fill="#f80c0c" stroke="#2a0000" stroke-width="0.85"/>
<circle cx="484" cy="126" r="3.1" fill="#f80c0c" stroke="#2a0000" stroke-width="0.85"/>
<circle cx="513" cy="137" r="3.1" fill="#f80c0c" stroke="#2a0000" stroke-width="0.85"/>
<circle cx="513" cy="141.5" r="3.1" fill="#f80c0c" stroke="#2a0000" stroke-width="0.85"/>
<circle cx="483.5" cy="153.3" r="3.1" fill="#f80c0c" stroke="#2a0000" stroke-width="0.85"/>
<circle cx="549.3" cy="63.6" r="3.1" fill="#f80c0c" stroke="#2a0000" stroke-width="0.85"/>
<circle cx="527" cy="75.5" r="3.1" fill="#f80c0c" stroke="#2a0000" stroke-width="0.85"/>
<circle cx="549.3" cy="78.2" r="3.1" fill="#f80c0c" stroke="#2a0000" stroke-width="0.85"/>
<circle cx="525" cy="93" r="3.1" fill="#f80c0c" stroke="#2a0000" stroke-width="0.85"/>
<circle cx="527" cy="100.5" r="3.1" fill="#f80c0c" stroke="#2a0000" stroke-width="0.85"/>
<circle cx="523.5" cy="107.5" r="3.1" fill="#f80c0c" stroke="#2a0000" stroke-width="0.85"/>
<circle cx="549" cy="94.5" r="3.1" fill="#f80c0c" stroke="#2a0000" stroke-width="0.85"/>
<circle cx="552.5" cy="97" r="3.1" fill="#f80c0c" stroke="#2a0000" stroke-width="0.85"/>
<circle cx="552" cy="108.5" r="3.1" fill="#f80c0c" stroke="#2a0000" stroke-width="0.85"/>
<circle cx="564" cy="103.5" r="3.1" fill="#f80c0c" stroke="#2a0000" stroke-width="0.85"/>
<circle cx="564.5" cy="109.5" r="3.1" fill="#f80c0c" stroke="#2a0000" stroke-width="0.85"/>
<circle cx="555" cy="113.5" r="3.1" fill="#f80c0c" stroke="#2a0000" stroke-width="0.85"/>
<circle cx="559.5" cy="114.5" r="3.1" fill="#f80c0c" stroke="#2a0000" stroke-width="0.85"/>
<circle cx="549.5" cy="117.5" r="3.1" fill="#f80c0c" stroke="#2a0000" stroke-width="0.85"/>
<circle cx="544.5" cy="119" r="3.1" fill="#f80c0c" stroke="#2a0000" stroke-width="0.85"/>
<circle cx="541.5" cy="123.5" r="3.1" fill="#f80c0c" stroke="#2a0000" stroke-width="0.85"/>
<circle cx="555" cy="121.8" r="3.1" fill="#f80c0c" stroke="#2a0000" stroke-width="0.85"/>
<circle cx="558.7" cy="124.3" r="3.1" fill="#f80c0c" stroke="#2a0000" stroke-width="0.85"/>
<circle cx="532" cy="115" r="3.1" fill="#f80c0c" stroke="#2a0000" stroke-width="0.85"/>
<circle cx="525" cy="121" r="3.1" fill="#f80c0c" stroke="#2a0000" stroke-width="0.85"/>
<circle cx="531.5" cy="124" r="3.1" fill="#f80c0c" stroke="#2a0000" stroke-width="0.85"/>
<circle cx="578" cy="122.5" r="3.1" fill="#f80c0c" stroke="#2a0000" stroke-width="0.85"/>
<circle cx="584.5" cy="102.5" r="3.1" fill="#f80c0c" stroke="#2a0000" stroke-width="0.85"/>
<circle cx="584.5" cy="105.5" r="3.1" fill="#f80c0c" stroke="#2a0000" stroke-width="0.85"/>
<circle cx="557.5" cy="128.5" r="3.1" fill="#f80c0c" stroke="#2a0000" stroke-width="0.85"/>
<circle cx="554" cy="134" r="3.1" fill="#f80c0c" stroke="#2a0000" stroke-width="0.85"/>
<circle cx="553.5" cy="141" r="3.1" fill="#f80c0c" stroke="#2a0000" stroke-width="0.85"/>
<circle cx="541.5" cy="144.2" r="3.1" fill="#f80c0c" stroke="#2a0000" stroke-width="0.85"/>
<circle cx="523.5" cy="132.5" r="3.1" fill="#f80c0c" stroke="#2a0000" stroke-width="0.85"/>
<circle cx="526.5" cy="137" r="3.1" fill="#f80c0c" stroke="#2a0000" stroke-width="0.85"/>
<circle cx="524.5" cy="142.5" r="3.1" fill="#f80c0c" stroke="#2a0000" stroke-width="0.85"/>
<circle cx="527" cy="143.5" r="3.1" fill="#f80c0c" stroke="#2a0000" stroke-width="0.85"/>
<circle cx="545.5" cy="120.5" r="3.1" fill="#f80c0c" stroke="#2a0000" stroke-width="0.85"/>
<circle cx="599.6" cy="66.4" r="3.1" fill="#f80c0c" stroke="#2a0000" stroke-width="0.85"/>
<circle cx="599.6" cy="77.9" r="3.1" fill="#f80c0c" stroke="#2a0000" stroke-width="0.85"/>
<circle cx="138.7" cy="341.2" r="3.1" fill="#f80c0c" stroke="#2a0000" stroke-width="0.85"/>
<circle cx="141.2" cy="348.5" r="3.1" fill="#f80c0c" stroke="#2a0000" stroke-width="0.85"/>
<circle cx="129.3" cy="352.8" r="3.1" fill="#f80c0c" stroke="#2a0000" stroke-width="0.85"/>
<circle cx="138.7" cy="358.8" r="3.1" fill="#f80c0c" stroke="#2a0000" stroke-width="0.85"/>
<circle cx="129.3" cy="361" r="3.1" fill="#f80c0c" stroke="#2a0000" stroke-width="0.85"/>
<circle cx="121.8" cy="367.5" r="3.1" fill="#f80c0c" stroke="#2a0000" stroke-width="0.85"/>
<circle cx="116.5" cy="371.5" r="3.1" fill="#f80c0c" stroke="#2a0000" stroke-width="0.85"/>
<circle cx="121.2" cy="373" r="3.1" fill="#f80c0c" stroke="#2a0000" stroke-width="0.85"/>
<circle cx="130.5" cy="375.5" r="3.1" fill="#f80c0c" stroke="#2a0000" stroke-width="0.85"/>
<circle cx="137" cy="366.5" r="3.1" fill="#f80c0c" stroke="#2a0000" stroke-width="0.85"/>
<circle cx="137" cy="371.5" r="3.1" fill="#f80c0c" stroke="#2a0000" stroke-width="0.85"/>
<circle cx="141" cy="370" r="3.1" fill="#f80c0c" stroke="#2a0000" stroke-width="0.85"/>
<circle cx="145" cy="369" r="3.1" fill="#f80c0c" stroke="#2a0000" stroke-width="0.85"/>
<circle cx="144.5" cy="373" r="3.1" fill="#f80c0c" stroke="#2a0000" stroke-width="0.85"/>
<circle cx="142.5" cy="376.5" r="3.1" fill="#f80c0c" stroke="#2a0000" stroke-width="0.85"/>
<circle cx="101.5" cy="380.5" r="3.1" fill="#f80c0c" stroke="#2a0000" stroke-width="0.85"/>
<circle cx="101.6" cy="377.6" r="3.1" fill="#f80c0c" stroke="#2a0000" stroke-width="0.85"/>
<circle cx="151" cy="380.5" r="3.1" fill="#f80c0c" stroke="#2a0000" stroke-width="0.85"/>
<circle cx="120.5" cy="384.5" r="3.1" fill="#f80c0c" stroke="#2a0000" stroke-width="0.85"/>
<circle cx="125.5" cy="383.5" r="3.1" fill="#f80c0c" stroke="#2a0000" stroke-width="0.85"/>
<circle cx="121.8" cy="389" r="3.1" fill="#f80c0c" stroke="#2a0000" stroke-width="0.85"/>
<circle cx="116.5" cy="390.8" r="3.1" fill="#f80c0c" stroke="#2a0000" stroke-width="0.85"/>
<circle cx="121.8" cy="396.5" r="3.1" fill="#f80c0c" stroke="#2a0000" stroke-width="0.85"/>
<circle cx="115.5" cy="404.5" r="3.1" fill="#f80c0c" stroke="#2a0000" stroke-width="0.85"/>
<circle cx="115.5" cy="412.8" r="3.1" fill="#f80c0c" stroke="#2a0000" stroke-width="0.85"/>
<circle cx="96" cy="402.2" r="3.1" fill="#f80c0c" stroke="#2a0000" stroke-width="0.85"/>
<circle cx="96" cy="405" r="3.1" fill="#f80c0c" stroke="#2a0000" stroke-width="0.85"/>
<circle cx="96" cy="410.8" r="3.1" fill="#f80c0c" stroke="#2a0000" stroke-width="0.85"/>
<circle cx="137.2" cy="398.5" r="3.1" fill="#f80c0c" stroke="#2a0000" stroke-width="0.85"/>
<circle cx="125.5" cy="422.5" r="3.1" fill="#f80c0c" stroke="#2a0000" stroke-width="0.85"/>
<circle cx="96.5" cy="426" r="3.1" fill="#f80c0c" stroke="#2a0000" stroke-width="0.85"/>
<circle cx="100" cy="430.5" r="3.1" fill="#f80c0c" stroke="#2a0000" stroke-width="0.85"/>
<circle cx="96" cy="431.5" r="3.1" fill="#f80c0c" stroke="#2a0000" stroke-width="0.85"/>
<circle cx="144.5" cy="385.5" r="3.1" fill="#f80c0c" stroke="#2a0000" stroke-width="0.85"/>
<circle cx="145" cy="389" r="3.1" fill="#f80c0c" stroke="#2a0000" stroke-width="0.85"/>
<circle cx="150.5" cy="381.5" r="3.1" fill="#f80c0c" stroke="#2a0000" stroke-width="0.85"/>
<circle cx="151" cy="392" r="3.1" fill="#f80c0c" stroke="#2a0000" stroke-width="0.85"/>
<circle cx="180.5" cy="342" r="3.1" fill="#f80c0c" stroke="#2a0000" stroke-width="0.85"/>
<circle cx="157" cy="351.3" r="3.1" fill="#f80c0c" stroke="#2a0000" stroke-width="0.85"/>
<circle cx="158.5" cy="359.5" r="3.1" fill="#f80c0c" stroke="#2a0000" stroke-width="0.85"/>
<circle cx="157" cy="368" r="3.1" fill="#f80c0c" stroke="#2a0000" stroke-width="0.85"/>
<circle cx="155" cy="374" r="3.1" fill="#f80c0c" stroke="#2a0000" stroke-width="0.85"/>
<circle cx="163.5" cy="374.5" r="3.1" fill="#f80c0c" stroke="#2a0000" stroke-width="0.85"/>
<circle cx="158" cy="379" r="3.1" fill="#f80c0c" stroke="#2a0000" stroke-width="0.85"/>
<circle cx="158.5" cy="384.5" r="3.1" fill="#f80c0c" stroke="#2a0000" stroke-width="0.85"/>
<circle cx="164" cy="383" r="3.1" fill="#f80c0c" stroke="#2a0000" stroke-width="0.85"/>
<circle cx="151" cy="391.8" r="3.1" fill="#f80c0c" stroke="#2a0000" stroke-width="0.85"/>
<circle cx="156.5" cy="390.8" r="3.1" fill="#f80c0c" stroke="#2a0000" stroke-width="0.85"/>
<circle cx="173" cy="370" r="3.1" fill="#f80c0c" stroke="#2a0000" stroke-width="0.85"/>
<circle cx="177" cy="369" r="3.1" fill="#f80c0c" stroke="#2a0000" stroke-width="0.85"/>
<circle cx="181" cy="372.5" r="3.1" fill="#f80c0c" stroke="#2a0000" stroke-width="0.85"/>
<circle cx="177" cy="376.5" r="3.1" fill="#f80c0c" stroke="#2a0000" stroke-width="0.85"/>
<circle cx="181" cy="363.5" r="3.1" fill="#f80c0c" stroke="#2a0000" stroke-width="0.85"/>
<circle cx="184.5" cy="366" r="3.1" fill="#f80c0c" stroke="#2a0000" stroke-width="0.85"/>
<circle cx="191" cy="372.5" r="3.1" fill="#f80c0c" stroke="#2a0000" stroke-width="0.85"/>
<circle cx="196.5" cy="364" r="3.1" fill="#f80c0c" stroke="#2a0000" stroke-width="0.85"/>
<circle cx="196.5" cy="376.5" r="3.1" fill="#f80c0c" stroke="#2a0000" stroke-width="0.85"/>
<circle cx="189.5" cy="378.5" r="3.1" fill="#f80c0c" stroke="#2a0000" stroke-width="0.85"/>
<circle cx="189.5" cy="383.5" r="3.1" fill="#f80c0c" stroke="#2a0000" stroke-width="0.85"/>
<circle cx="186.5" cy="388.5" r="3.1" fill="#f80c0c" stroke="#2a0000" stroke-width="0.85"/>
<circle cx="186" cy="394" r="3.1" fill="#f80c0c" stroke="#2a0000" stroke-width="0.85"/>
<circle cx="173.5" cy="393.8" r="3.1" fill="#f80c0c" stroke="#2a0000" stroke-width="0.85"/>
<circle cx="231.5" cy="349.5" r="3.1" fill="#f80c0c" stroke="#2a0000" stroke-width="0.85"/>
<circle cx="231.5" cy="356" r="3.1" fill="#f80c0c" stroke="#2a0000" stroke-width="0.85"/>
<circle cx="209.5" cy="361" r="3.1" fill="#f80c0c" stroke="#2a0000" stroke-width="0.85"/>
<circle cx="216" cy="366" r="3.1" fill="#f80c0c" stroke="#2a0000" stroke-width="0.85"/>
<circle cx="216.5" cy="375.5" r="3.1" fill="#f80c0c" stroke="#2a0000" stroke-width="0.85"/>
<circle cx="467.5" cy="323.8" r="3.1" fill="#f80c0c" stroke="#2a0000" stroke-width="0.85"/>
<circle cx="467.5" cy="335.2" r="3.1" fill="#f80c0c" stroke="#2a0000" stroke-width="0.85"/>
<circle cx="463.8" cy="336.5" r="3.1" fill="#f80c0c" stroke="#2a0000" stroke-width="0.85"/>
<circle cx="464.5" cy="341.8" r="3.1" fill="#f80c0c" stroke="#2a0000" stroke-width="0.85"/>
<circle cx="464.3" cy="348.5" r="3.1" fill="#f80c0c" stroke="#2a0000" stroke-width="0.85"/>
<circle cx="464.5" cy="360" r="3.1" fill="#f80c0c" stroke="#2a0000" stroke-width="0.85"/>
<circle cx="490" cy="337.8" r="3.1" fill="#f80c0c" stroke="#2a0000" stroke-width="0.85"/>
<circle cx="497.5" cy="334.5" r="3.1" fill="#f80c0c" stroke="#2a0000" stroke-width="0.85"/>
<circle cx="493" cy="341.5" r="3.1" fill="#f80c0c" stroke="#2a0000" stroke-width="0.85"/>
<circle cx="497.5" cy="341.8" r="3.1" fill="#f80c0c" stroke="#2a0000" stroke-width="0.85"/>
<circle cx="490" cy="346" r="3.1" fill="#f80c0c" stroke="#2a0000" stroke-width="0.85"/>
<circle cx="505.5" cy="336.2" r="3.1" fill="#f80c0c" stroke="#2a0000" stroke-width="0.85"/>
<circle cx="505" cy="340.8" r="3.1" fill="#f80c0c" stroke="#2a0000" stroke-width="0.85"/>
<circle cx="509.5" cy="340.2" r="3.1" fill="#f80c0c" stroke="#2a0000" stroke-width="0.85"/>
<circle cx="511" cy="344" r="3.1" fill="#f80c0c" stroke="#2a0000" stroke-width="0.85"/>
<circle cx="512.5" cy="350" r="3.1" fill="#f80c0c" stroke="#2a0000" stroke-width="0.85"/>
<circle cx="505.5" cy="353.5" r="3.1" fill="#f80c0c" stroke="#2a0000" stroke-width="0.85"/>
<circle cx="519" cy="341.5" r="3.1" fill="#f80c0c" stroke="#2a0000" stroke-width="0.85"/>
<circle cx="489.3" cy="358.3" r="3.1" fill="#f80c0c" stroke="#2a0000" stroke-width="0.85"/>
<circle cx="493.5" cy="357.6" r="3.1" fill="#f80c0c" stroke="#2a0000" stroke-width="0.85"/>
<circle cx="489.5" cy="364.8" r="3.1" fill="#f80c0c" stroke="#2a0000" stroke-width="0.85"/>
<circle cx="511" cy="364.5" r="3.1" fill="#f80c0c" stroke="#2a0000" stroke-width="0.85"/>
<circle cx="485" cy="368.5" r="3.1" fill="#f80c0c" stroke="#2a0000" stroke-width="0.85"/>
<circle cx="470" cy="370" r="3.1" fill="#f80c0c" stroke="#2a0000" stroke-width="0.85"/>
<circle cx="470" cy="374.5" r="3.1" fill="#f80c0c" stroke="#2a0000" stroke-width="0.85"/>
<circle cx="485" cy="375.5" r="3.1" fill="#f80c0c" stroke="#2a0000" stroke-width="0.85"/>
<circle cx="489.5" cy="373.5" r="3.1" fill="#f80c0c" stroke="#2a0000" stroke-width="0.85"/>
<circle cx="489.5" cy="380.8" r="3.1" fill="#f80c0c" stroke="#2a0000" stroke-width="0.85"/>
<circle cx="499" cy="374.5" r="3.1" fill="#f80c0c" stroke="#2a0000" stroke-width="0.85"/>
<circle cx="499" cy="378.5" r="3.1" fill="#f80c0c" stroke="#2a0000" stroke-width="0.85"/>
<circle cx="505" cy="371" r="3.1" fill="#f80c0c" stroke="#2a0000" stroke-width="0.85"/>
<circle cx="511" cy="366" r="3.1" fill="#f80c0c" stroke="#2a0000" stroke-width="0.85"/>
<circle cx="513" cy="370.5" r="3.1" fill="#f80c0c" stroke="#2a0000" stroke-width="0.85"/>
<circle cx="509.5" cy="375" r="3.1" fill="#f80c0c" stroke="#2a0000" stroke-width="0.85"/>
<circle cx="519" cy="373" r="3.1" fill="#f80c0c" stroke="#2a0000" stroke-width="0.85"/>
<circle cx="513" cy="382" r="3.1" fill="#f80c0c" stroke="#2a0000" stroke-width="0.85"/>
<circle cx="513" cy="392.8" r="3.1" fill="#f80c0c" stroke="#2a0000" stroke-width="0.85"/>
<circle cx="464.5" cy="388" r="3.1" fill="#f80c0c" stroke="#2a0000" stroke-width="0.85"/>
<circle cx="464.5" cy="390.5" r="3.1" fill="#f80c0c" stroke="#2a0000" stroke-width="0.85"/>
<circle cx="476.5" cy="385" r="3.1" fill="#f80c0c" stroke="#2a0000" stroke-width="0.85"/>
<circle cx="476.5" cy="389.5" r="3.1" fill="#f80c0c" stroke="#2a0000" stroke-width="0.85"/>
<circle cx="484" cy="390" r="3.1" fill="#f80c0c" stroke="#2a0000" stroke-width="0.85"/>
<circle cx="490" cy="388" r="3.1" fill="#f80c0c" stroke="#2a0000" stroke-width="0.85"/>
<circle cx="483.5" cy="401.5" r="3.1" fill="#f80c0c" stroke="#2a0000" stroke-width="0.85"/>
<circle cx="506.8" cy="412.5" r="3.1" fill="#f80c0c" stroke="#2a0000" stroke-width="0.85"/>
<circle cx="506.8" cy="423" r="3.1" fill="#f80c0c" stroke="#2a0000" stroke-width="0.85"/>
<circle cx="526.5" cy="329.2" r="3.1" fill="#f80c0c" stroke="#2a0000" stroke-width="0.85"/>
<circle cx="526.5" cy="336.5" r="3.1" fill="#f80c0c" stroke="#2a0000" stroke-width="0.85"/>
<circle cx="526.5" cy="342.5" r="3.1" fill="#f80c0c" stroke="#2a0000" stroke-width="0.85"/>
<circle cx="524" cy="347" r="3.1" fill="#f80c0c" stroke="#2a0000" stroke-width="0.85"/>
<circle cx="524.5" cy="355.5" r="3.1" fill="#f80c0c" stroke="#2a0000" stroke-width="0.85"/>
<circle cx="541.5" cy="330.5" r="3.1" fill="#f80c0c" stroke="#2a0000" stroke-width="0.85"/>
<circle cx="545.5" cy="334.5" r="3.1" fill="#f80c0c" stroke="#2a0000" stroke-width="0.85"/>
<circle cx="541.5" cy="341.8" r="3.1" fill="#f80c0c" stroke="#2a0000" stroke-width="0.85"/>
<circle cx="545.5" cy="345.2" r="3.1" fill="#f80c0c" stroke="#2a0000" stroke-width="0.85"/>
<circle cx="549.5" cy="352.8" r="3.1" fill="#f80c0c" stroke="#2a0000" stroke-width="0.85"/>
<circle cx="555" cy="352" r="3.1" fill="#f80c0c" stroke="#2a0000" stroke-width="0.85"/>
<circle cx="558" cy="349.5" r="3.1" fill="#f80c0c" stroke="#2a0000" stroke-width="0.85"/>
<circle cx="557.5" cy="357" r="3.1" fill="#f80c0c" stroke="#2a0000" stroke-width="0.85"/>
<circle cx="532" cy="360.5" r="3.1" fill="#f80c0c" stroke="#2a0000" stroke-width="0.85"/>
<circle cx="531.5" cy="362" r="3.1" fill="#f80c0c" stroke="#2a0000" stroke-width="0.85"/>
<circle cx="528" cy="370" r="3.1" fill="#f80c0c" stroke="#2a0000" stroke-width="0.85"/>
<circle cx="523.5" cy="376.5" r="3.1" fill="#f80c0c" stroke="#2a0000" stroke-width="0.85"/>
<circle cx="532" cy="375" r="3.1" fill="#f80c0c" stroke="#2a0000" stroke-width="0.85"/>
<circle cx="532" cy="379.5" r="3.1" fill="#f80c0c" stroke="#2a0000" stroke-width="0.85"/>
<circle cx="528" cy="390.5" r="3.1" fill="#f80c0c" stroke="#2a0000" stroke-width="0.85"/>
<circle cx="549" cy="365.5" r="3.1" fill="#f80c0c" stroke="#2a0000" stroke-width="0.85"/>
<circle cx="555" cy="364.5" r="3.1" fill="#f80c0c" stroke="#2a0000" stroke-width="0.85"/>
<circle cx="559.5" cy="370" r="3.1" fill="#f80c0c" stroke="#2a0000" stroke-width="0.85"/>
<circle cx="564.5" cy="372.5" r="3.1" fill="#f80c0c" stroke="#2a0000" stroke-width="0.85"/>
<circle cx="552" cy="375.5" r="3.1" fill="#f80c0c" stroke="#2a0000" stroke-width="0.85"/>
<circle cx="559" cy="375.5" r="3.1" fill="#f80c0c" stroke="#2a0000" stroke-width="0.85"/>
<circle cx="564.5" cy="380.2" r="3.1" fill="#f80c0c" stroke="#2a0000" stroke-width="0.85"/>
<circle cx="549" cy="382.8" r="3.1" fill="#f80c0c" stroke="#2a0000" stroke-width="0.85"/>
<circle cx="552.5" cy="385.5" r="3.1" fill="#f80c0c" stroke="#2a0000" stroke-width="0.85"/>
<circle cx="549" cy="394.8" r="3.1" fill="#f80c0c" stroke="#2a0000" stroke-width="0.85"/>
<circle cx="578" cy="377.5" r="3.1" fill="#f80c0c" stroke="#2a0000" stroke-width="0.85"/>
<circle cx="578" cy="381.5" r="3.1" fill="#f80c0c" stroke="#2a0000" stroke-width="0.85"/>
<circle cx="584.5" cy="387.5" r="3.1" fill="#f80c0c" stroke="#2a0000" stroke-width="0.85"/>
<circle cx="599.7" cy="373" r="3.1" fill="#f80c0c" stroke="#2a0000" stroke-width="0.85"/>
<circle cx="599.6" cy="390.2" r="3.1" fill="#f80c0c" stroke="#2a0000" stroke-width="0.85"/>
<path d="M291.4 396.0V452.7M288.9 396.0H291.4M288.9 410.2H291.4M288.9 424.3H291.4M288.9 438.5H291.4M288.9 452.7H291.4" stroke="#383838" stroke-width="1" fill="none"/>
<text x="296.5" y="400.1" class="s">0.8</text>
<text x="296.5" y="414.3" class="s">0.6</text>
<text x="296.5" y="428.40000000000003" class="s">0.4</text>
<text x="296.5" y="442.6" class="s">0.2</text>
<text x="296.5" y="456.8" class="s">0.0</text>
<text x="315.3" y="457.3" class="s">%</text>
<path d="M659.4 396.0V452.7M656.9 396.0H659.4M656.9 410.2H659.4M656.9 424.3H659.4M656.9 438.5H659.4M656.9 452.7H659.4" stroke="#383838" stroke-width="1" fill="none"/>
<text x="664.5" y="400.1" class="s">4</text>
<text x="664.5" y="414.3" class="s">3</text>
<text x="664.5" y="428.40000000000003" class="s">2</text>
<text x="664.5" y="442.6" class="s">1</text>
<text x="664.5" y="456.8" class="s">0</text>
<text x="674.7" y="457.3" class="s">%</text>
<path d="M236.0 421.1V404.9M231.0 404.9H241.0M236.0 437.4V443.2M231.0 443.2H241.0" stroke="#555" stroke-width="1" fill="none"/>
<rect x="225.5" y="421.1" width="21.0" height="16.299999999999955" fill="#fff" stroke="#555" stroke-width="1"/>
<line x1="225.5" y1="425.7" x2="246.5" y2="425.7" stroke="#555" stroke-width="1"/>
<circle cx="236.2" cy="399.3" r="2.2" fill="#000" stroke="#000" stroke-width="0.5"/>
<circle cx="236.2" cy="401.8" r="2.2" fill="#000" stroke="#000" stroke-width="0.5"/>
<circle cx="236.2" cy="445" r="2.2" fill="#000" stroke="#000" stroke-width="0.5"/>
<circle cx="236.2" cy="447.2" r="2.2" fill="#000" stroke="#000" stroke-width="0.5"/>
<path d="M270.8 434.1V428.6M265.8 428.6H275.8M270.8 445.6V446.2M265.8 446.2H275.8" stroke="#555" stroke-width="1" fill="none"/>
<rect x="260.5" y="434.1" width="20.69999999999999" height="11.5" fill="#fff" stroke="#555" stroke-width="1"/>
<line x1="260.5" y1="441.2" x2="281.2" y2="441.2" stroke="#555" stroke-width="1"/>
<circle cx="270.7" cy="408.8" r="2.2" fill="#b50f0f" stroke="#400" stroke-width="0.5"/>
<circle cx="270.7" cy="412.9" r="2.2" fill="#b50f0f" stroke="#400" stroke-width="0.5"/>
<circle cx="270.7" cy="421.3" r="2.2" fill="#b50f0f" stroke="#400" stroke-width="0.5"/>
<circle cx="270.7" cy="428.5" r="2.2" fill="#b50f0f" stroke="#400" stroke-width="0.5"/>
<circle cx="270.5" cy="448" r="2.2" fill="#b50f0f" stroke="#400" stroke-width="0.5"/>
<circle cx="270.5" cy="450.5" r="2.2" fill="#b50f0f" stroke="#400" stroke-width="0.5"/>
<text x="236.5" y="392.8" class="l" text-anchor="middle">b</text>
<text x="270.6" y="401.7" class="l" text-anchor="middle">a</text>
<path d="M604.5 438.3V428.3M599.5 428.3H609.5M604.5 443.2V445.6M599.5 445.6H609.5" stroke="#555" stroke-width="1" fill="none"/>
<rect x="593.5" y="438.3" width="21.200000000000045" height="4.899999999999977" fill="#fff" stroke="#555" stroke-width="1"/>
<line x1="593.5" y1="441.5" x2="614.7" y2="441.5" stroke="#555" stroke-width="1"/>
<circle cx="604.5" cy="424" r="2.2" fill="#000" stroke="#000" stroke-width="0.5"/>
<circle cx="604.5" cy="427" r="2.2" fill="#000" stroke="#000" stroke-width="0.5"/>
<circle cx="604.5" cy="446.6" r="2.2" fill="#000" stroke="#000" stroke-width="0.5"/>
<circle cx="604.5" cy="448.8" r="2.2" fill="#000" stroke="#000" stroke-width="0.5"/>
<path d="M638.9 426.5V419.7M633.9 419.7H643.9M638.9 441.5V443.4M633.9 443.4H643.9" stroke="#555" stroke-width="1" fill="none"/>
<rect x="628.7" y="426.5" width="20.59999999999991" height="15.0" fill="#fff" stroke="#555" stroke-width="1"/>
<line x1="628.7" y1="434.3" x2="649.3" y2="434.3" stroke="#555" stroke-width="1"/>
<circle cx="638.8" cy="410" r="2.2" fill="#b50f0f" stroke="#400" stroke-width="0.5"/>
<circle cx="638.8" cy="417.3" r="2.2" fill="#b50f0f" stroke="#400" stroke-width="0.5"/>
<circle cx="638.8" cy="419.3" r="2.2" fill="#b50f0f" stroke="#400" stroke-width="0.5"/>
<circle cx="638.8" cy="445" r="2.2" fill="#b50f0f" stroke="#400" stroke-width="0.5"/>
<circle cx="638.8" cy="447.5" r="2.2" fill="#b50f0f" stroke="#400" stroke-width="0.5"/>
<circle cx="638.8" cy="450" r="2.2" fill="#b50f0f" stroke="#400" stroke-width="0.5"/>
<text x="604.5" y="417.4" class="l" text-anchor="middle">a</text>
<text x="638.4" y="403.5" class="l" text-anchor="middle">a</text>
</svg>
</body></html>
